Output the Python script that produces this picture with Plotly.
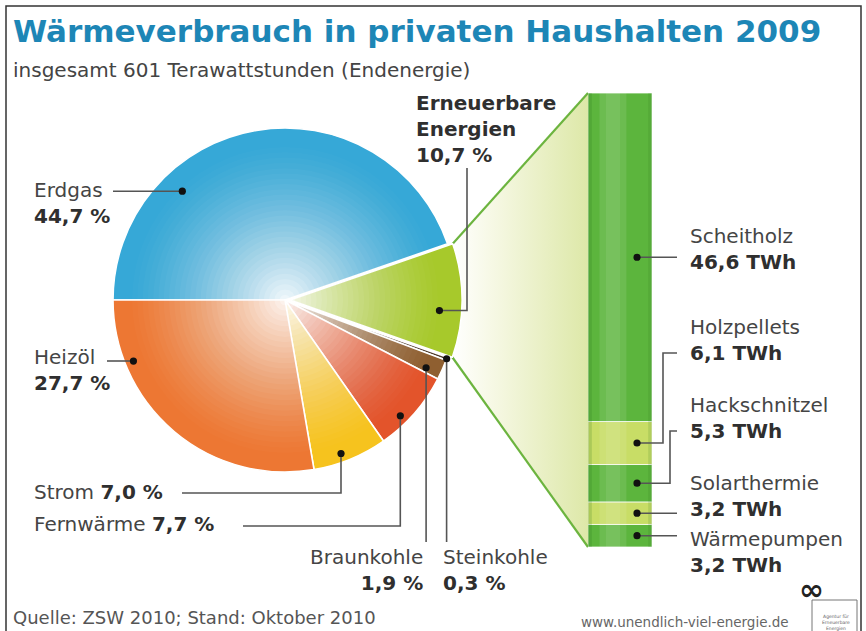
import math
import numpy as np
import plotly.graph_objects as go

# ---------------- data ----------------
pie_labels = ["Erdgas", "Erneuerbare Energien", "Steinkohle", "Braunkohle",
              "Fernwärme", "Strom", "Heizöl"]
pie_values = [44.7, 10.7, 0.3, 1.9, 7.7, 7.0, 27.7]          # percent
total_twh = 601

ee_labels = ["Scheitholz", "Holzpellets", "Hackschnitzel", "Solarthermie", "Wärmepumpen"]
ee_values = [46.6, 6.1, 5.3, 3.2, 3.2]                         # TWh (top -> bottom)

title_text = "Wärmeverbrauch in privaten Haushalten 2009"
subtitle_text = f"insgesamt {total_twh} Terawattstunden (Endenergie)"
source_text = "Quelle: ZSW 2010; Stand: Oktober 2010"
url_text = "www.unendlich-viel-energie.de"

# ---------------- styles / layout ----------------
W, H = 866, 631
FONT = "DejaVu Sans"
pie_colors = ["#36a8d7", "#a7c92b", "#4d3a2a", "#8f5f30", "#e3542b", "#f6c31e", "#ed7733"]
ee_colors = ["#5cb53d", "#c8dd66", "#5cb53d", "#c8dd66", "#5cb53d"]
pull_map = {"Erneuerbare Energien": 0.03}

CX, CY, R = 285.0, 300.0, 172.0
BX0, BX1, BTOP, BBOT = 588.0, 652.0, 93.0, 547.0

def de(v):
    return f"{v:.1f}".replace(".", ",")

pulls = [pull_map.get(l, 0) for l in pie_labels]
maxpull = max(pulls)
half = R * (1 + maxpull)

# slice angles (math convention, clockwise from 9 o'clock)
tot = sum(pie_values)
angles = {}
start = 180.0
for lab, v in zip(pie_labels, pie_values):
    end = start - v / tot * 360.0
    angles[lab] = (start, end)
    start = end

def slice_offset(lab):
    a0, a1 = angles[lab]
    m = math.radians((a0 + a1) / 2)
    p = pull_map.get(lab, 0) * R
    return p * math.cos(m), -p * math.sin(m)

def pie_pt(lab, frac, rf):
    a0, a1 = angles[lab]
    a = math.radians(a0 + frac * (a1 - a0))
    ox, oy = slice_offset(lab)
    return CX + ox + rf * R * math.cos(a), CY + oy - rf * R * math.sin(a)

# label placement (style): dot position inside slice, label pos, leader route
pie_label_spec = {
    "Erdgas":               dict(dot=(0.29, 0.87), txt=(32, 203, "left")),
    "Heizöl":               dict(dot=(0.78, 0.95), txt=(32, 370, "left")),
    "Strom":                dict(dot=(0.59, 0.95), txt=(32, 492, "left")),
    "Fernwärme":            dict(dot=(0.64, 0.95), txt=(32, 524, "left")),
    "Braunkohle":           dict(dot=(0.75, 0.91), txt=(425, 570, "right")),
    "Steinkohle":           dict(dot=(0.5, 1.0),  txt=(441, 570, "left")),
    "Erneuerbare Energien": dict(dot=(0.6, 0.87), txt=(414, 129, "left")),
}

def pie_route(lab, d):
    x, y = d
    if lab == "Erdgas":
        return [(x, y), (113, y)]
    if lab == "Heizöl":
        return [(x, y), (107, y)]
    if lab == "Strom":
        return [(x, y), (x, 493), (182, 493)]
    if lab == "Fernwärme":
        return [(x, y), (x, 526), (243, 526)]
    if lab in ("Braunkohle", "Steinkohle"):
        return [(x, y), (x, 542)]
    if lab == "Erneuerbare Energien":
        return [(x, y), (467, y), (467, 168)]
    return [(x, y)]

# bar geometry helpers (mirror of yaxis2 mapping)
ee_total = sum(ee_values)
def bar_px(v):
    return BTOP + (1 - v / ee_total) * (BBOT - BTOP)

bar_dot_x2 = 0.266
bar_dot_px = BX0 + (bar_dot_x2 + 0.5) * (BX1 - BX0)
bar_label_spec = {
    "Scheitholz":    dict(txt=249, route=None),
    "Holzpellets":   dict(txt=340, route=(663, 353)),
    "Hackschnitzel": dict(txt=418, route=(670, 431)),
    "Solarthermie":  dict(txt=496, route=None),
    "Wärmepumpen":   dict(txt=552, route=None),
}

fig = go.Figure()

# connector (fill between pie slice and bar)
ee_lab = "Erneuerbare Energien"
top_c = pie_pt(ee_lab, 0.0, 1.0)
bot_c = pie_pt(ee_lab, 1.0, 1.0)
fig.add_trace(go.Scatter(
    x=[top_c[0], BX0, BX0, bot_c[0], top_c[0]],
    y=[top_c[1], BTOP, BBOT, bot_c[1], top_c[1]],
    mode="lines", fill="toself", line=dict(width=0),
    fillgradient=dict(type="horizontal",
                      colorscale=[[0, "#ffffff"], [0.3, "#f6f8e4"], [1, "#dde8a8"]]),
    hoverinfo="skip", showlegend=False, xaxis="x", yaxis="y"))
fig.add_trace(go.Scatter(
    x=[top_c[0], BX0, None, bot_c[0], BX0],
    y=[top_c[1], BTOP, None, bot_c[1], BBOT],
    mode="lines", line=dict(color="#6cb43f", width=2.2),
    hoverinfo="skip", showlegend=False, xaxis="x", yaxis="y"))

# pie
fig.add_trace(go.Pie(
    labels=pie_labels, values=pie_values, sort=False, direction="clockwise",
    rotation=-90, pull=pulls, textinfo="none", hoverinfo="label+value",
    marker=dict(colors=pie_colors, line=dict(color="white", width=1.6)),
    domain=dict(x=[(CX - half) / W, (CX + half) / W],
                y=[1 - (CY + half) / H, 1 - (CY - half) / H]),
    showlegend=False))

# stacked bar (bottom -> top)
base = 0.0
for lab, v, col in reversed(list(zip(ee_labels, ee_values, ee_colors))):
    fig.add_trace(go.Bar(
        x=[0], y=[v], base=[base], width=[1], name=lab,
        marker=dict(color=col, line=dict(color="rgba(255,255,255,0.75)", width=1)),
        xaxis="x2", yaxis="y2", showlegend=False, hoverinfo="name+y"))
    base += v

shapes = []
# radial whitening of the pie (gradient)
N = 30
fmax = 0.92
def target(f):
    return 0.94 * max(0.0, 1 - f / fmax) ** 1.25
prevA = 0.0
for k in range(N):
    fk = fmax * (N - k) / N
    fnext = fmax * (N - k - 1) / N
    A = target((fk + fnext) / 2)
    a = 1 - (1 - A) / (1 - prevA)
    prevA = A
    rr = fk * R
    shapes.append(dict(type="circle", xref="x", yref="y", layer="above",
                       x0=CX - rr, x1=CX + rr, y0=CY - rr, y1=CY + rr,
                       fillcolor=f"rgba(255,255,255,{a:.4f})", line=dict(width=0)))

# bar shading stripes
for x0, x1, col in [(-0.5, -0.44, "rgba(40,110,25,0.18)"),
                    (-0.32, 0.1, "rgba(255,255,255,0.10)"),
                    (-0.22, -0.0, "rgba(255,255,255,0.08)"),
                    (0.44, 0.5, "rgba(40,110,25,0.14)")]:
    shapes.append(dict(type="rect", xref="x2", yref="y2", layer="above",
                       x0=x0, x1=x1, y0=0, y1=ee_total, fillcolor=col, line=dict(width=0)))

LINE_COL = "#555555"
def path(pts):
    return "M " + " L ".join(f"{x:.1f},{y:.1f}" for x, y in pts)

dots = []
for lab in pie_labels:
    s = pie_label_spec[lab]
    d = pie_pt(lab, *s["dot"])
    shapes.append(dict(type="path", xref="x", yref="y", layer="above",
                       path=path(pie_route(lab, d)), line=dict(color=LINE_COL, width=1.6)))
    dots.append(d)

cum = ee_total
bar_dots = []
for lab, v in zip(ee_labels, ee_values):
    mid = cum - v / 2
    cum -= v
    y = bar_px(mid)
    r = bar_label_spec[lab]["route"]
    if r is None:
        pts = [(bar_dot_px, y), (677, y)]
    else:
        pts = [(bar_dot_px, y), (r[0], y), (r[0], r[1]), (677, r[1])]
    shapes.append(dict(type="path", xref="x", yref="y", layer="above",
                       path=path(pts), line=dict(color=LINE_COL, width=1.6)))
    bar_dots.append(mid)

for (x, y) in dots:
    shapes.append(dict(type="circle", xref="x", yref="y", layer="above",
                       x0=x - 3.6, x1=x + 3.6, y0=y - 3.6, y1=y + 3.6,
                       fillcolor="#111111", line=dict(width=0)))
for mid in bar_dots:
    shapes.append(dict(type="circle", xref="x2", yref="y2", layer="above",
                       xsizemode="pixel", ysizemode="pixel",
                       xanchor=bar_dot_x2, yanchor=mid, x0=-3.6, x1=3.6, y0=-3.6, y1=3.6,
                       fillcolor="#111111", line=dict(width=0)))

# frame and logo box
shapes.append(dict(type="rect", xref="x", yref="y", layer="above",
                   x0=6, x1=861, y0=6, y1=H + 10, line=dict(color="#333333", width=1.5)))
shapes.append(dict(type="rect", xref="x", yref="y", layer="above",
                   x0=812, x1=857, y0=600, y1=H + 4, line=dict(color="#777777", width=1)))

# ---------------- texts ----------------
ann = []
def add(x, y, text, size=20, color="#454545", xanchor="left", yanchor="middle", align="left", family=FONT):
    ann.append(dict(x=x, y=y, xref="x", yref="y", text=text, showarrow=False,
                    xanchor=xanchor, yanchor=yanchor, align=align,
                    font=dict(family=family, size=size, color=color)))

add(11, 31, f"<b>{title_text}</b>", size=31, color="#1d86b6")
add(11, 70, subtitle_text, size=20, color="#444444")

for lab, v in zip(pie_labels, pie_values):
    x, y, anc = pie_label_spec[lab]["txt"]
    if lab == "Erneuerbare Energien":
        txt = "<b>" + lab.replace(" ", "<br>") + f"<br>{de(v)} %</b>"
        add(x, y, txt, size=20, color="#2f2f2f")
    elif lab in ("Strom", "Fernwärme"):
        add(x, y, f"{lab} <b><span style='color:#2f2f2f'>{de(v)} %</span></b>", size=20)
    else:
        add(x, y, f"{lab}<br><b><span style='color:#2f2f2f'>{de(v)} %</span></b>", size=20,
            xanchor=anc, align=anc)

for lab, v in zip(ee_labels, ee_values):
    y = bar_label_spec[lab]["txt"]
    add(688, y, f"{lab}<br><b><span style='color:#2f2f2f'>{de(v)} TWh</span></b>", size=20)

add(11, 617, source_text, size=18, color="#555555")
add(791, 622, url_text, size=13.5, color="#666666", xanchor="right")
add(811, 589, "<b>∞</b>", size=30, color="#222222", xanchor="center")
add(836, 622, "Agentur für<br>Erneuerbare<br>Energien", size=4.5, color="#666666", xanchor="center", align="center")

fig.update_layout(
    width=W, height=H, margin=dict(l=0, r=0, t=0, b=0),
    paper_bgcolor="white", plot_bgcolor="rgba(0,0,0,0)",
    barmode="overlay", showlegend=False,
    xaxis=dict(domain=[0, 1], range=[0, W], visible=False, fixedrange=True),
    yaxis=dict(domain=[0, 1], range=[H, 0], visible=False, fixedrange=True),
    xaxis2=dict(domain=[BX0 / W, BX1 / W], range=[-0.5, 0.5], visible=False,
                anchor="y2", fixedrange=True),
    yaxis2=dict(domain=[1 - BBOT / H, 1 - BTOP / H], range=[0, ee_total], visible=False,
                anchor="x2", fixedrange=True),
    shapes=shapes, annotations=ann,
)

fig.write_html("out.html", config={"displayModeBar": False},
               post_script="document.body.style.margin='0';document.body.style.overflow='hidden';")
